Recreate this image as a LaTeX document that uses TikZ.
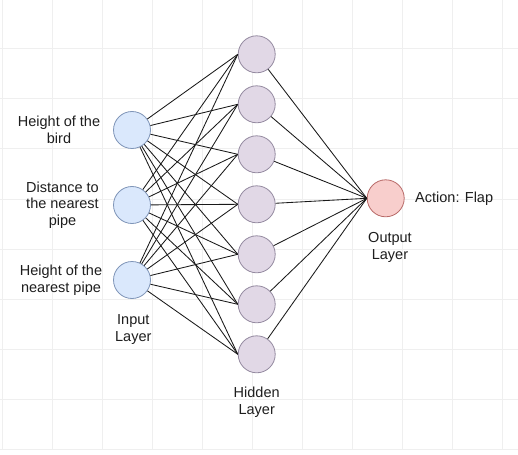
\documentclass[tikz,border=0pt]{standalone}
\usepackage{fontspec}
\setmainfont{Liberation Sans}
\definecolor{gridc}{HTML}{EFEFEF}
\definecolor{inF}{HTML}{DAE8FC}
\definecolor{inD}{HTML}{7F95B8}
\definecolor{hiF}{HTML}{E1D8E6}
\definecolor{hiD}{HTML}{948AA0}
\definecolor{ouF}{HTML}{F8CECC}
\definecolor{ouD}{HTML}{B86A68}
\definecolor{txt}{HTML}{1E1E1E}
\begin{document}
\begin{tikzpicture}[x=1pt,y=-1pt,
  neuron/.style={circle,minimum size=37pt,inner sep=0pt,line width=0.8pt},
  inneuron/.style={neuron,fill=inF,draw=inD},
  hidneuron/.style={neuron,fill=hiF,draw=hiD},
  outneuron/.style={neuron,fill=ouF,draw=ouD},
  lbl/.style={align=center,inner sep=0pt,text=txt,font=\fontsize{14.5}{16.7}\selectfont},
  conn/.style={draw=black!90,line width=0.85pt}]
\useasboundingbox (0,0) rectangle (518,454);
\fill[white] (0,0) rectangle (518,454);
\foreach \x in {2,52,...,502} \draw[gridc,line width=1pt] (\x,0) -- (\x,449);
\foreach \y in {49,99,...,449} \draw[gridc,line width=1pt] (0,\y) -- (518,\y);

\node[inneuron] (i1) at (132,130) {};
\node[inneuron] (i2) at (132,205) {};
\node[inneuron] (i3) at (132,280) {};
\foreach \k/\y in {1/54.3,2/104.3,3/154.3,4/204.3,5/254.3,6/304.3,7/354.3}
  \node[hidneuron] (h\k) at (256.7,\y) {};
\node[outneuron] (o) at (385.7,198.3) {};

\foreach \a in {1,2,3}
  \foreach \b in {1,...,7}
    \draw[conn] (i\a) -- (h\b.west);
\foreach \b in {1,...,7}
  \draw[conn] (h\b) -- (o.west);

\node[lbl] (t1) at (59,130) {Height of the\\bird};
\node[lbl] (t2) at (62.5,205) {Distance to\\the nearest\\pipe};
\node[lbl] (t3) at (61,280) {Height of the\\nearest pipe};
\node[lbl] (tin) at (133.3,329.5) {Input\\Layer};
\node[lbl] (thid) at (256.7,402.3) {Hidden\\Layer};
\node[lbl] (tout) at (390,247.7) {Output\\Layer};
\node[lbl,anchor=west] (tact) at (415,199) {Action: Flap};
\end{tikzpicture}
\end{document}
